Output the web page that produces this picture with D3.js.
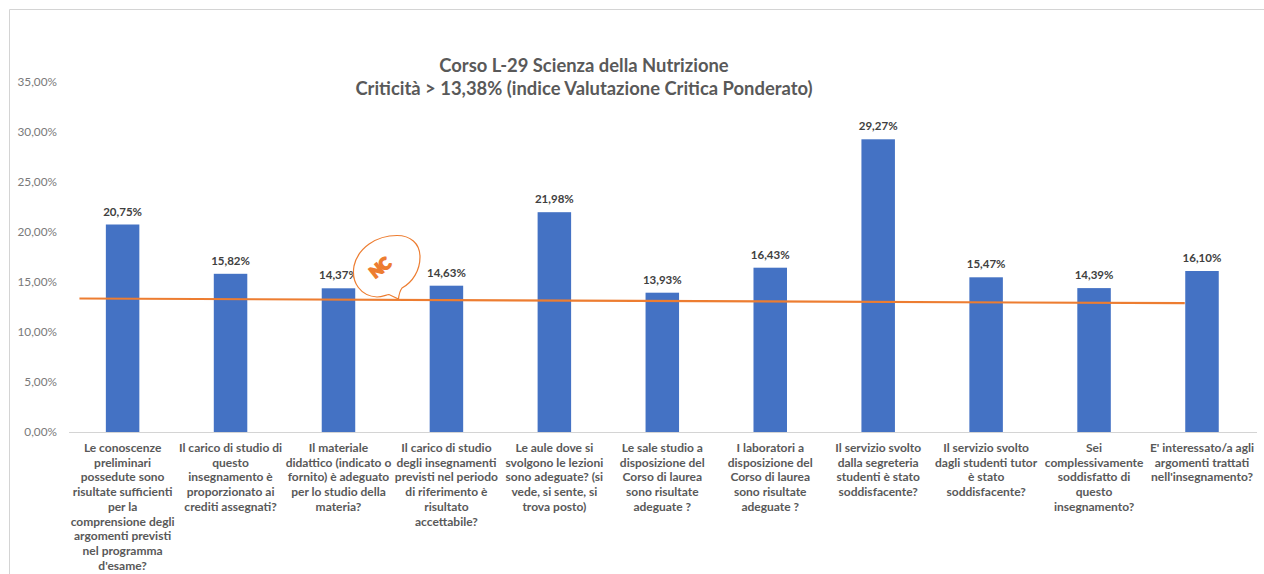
<!DOCTYPE html>
<html><head><meta charset="utf-8">
<script src="https://cdn.jsdelivr.net/npm/d3@7/dist/d3.min.js"></script>
<style>
html,body{margin:0;padding:0;background:#fff;overflow:hidden}
svg{display:block}
text{font-family:Lato,Carlito,"Open Sans",sans-serif}
</style></head><body>
<svg id="c" width="1264" height="574"></svg>
<script>
const categories = [
 ["Le conoscenze","preliminari","possedute sono","risultate sufficienti","per la","comprensione degli","argomenti previsti","nel programma","d'esame?"],
 ["Il carico di studio di","questo","insegnamento è","proporzionato ai","crediti assegnati?"],
 ["Il materiale","didattico (indicato o","fornito) è adeguato","per lo studio della","materia?"],
 ["Il carico di studio","degli insegnamenti","previsti nel periodo","di riferimento è","risultato","accettabile?"],
 ["Le aule dove si","svolgono le lezioni","sono adeguate? (si","vede, si sente, si","trova posto)"],
 ["Le sale studio a","disposizione del","Corso di laurea","sono risultate","adeguate ?"],
 ["I laboratori a","disposizione del","Corso di laurea","sono risultate","adeguate ?"],
 ["Il servizio svolto","dalla segreteria","studenti è stato","soddisfacente?"],
 ["Il servizio svolto","dagli studenti tutor","è stato","soddisfacente?"],
 ["Sei","complessivamente","soddisfatto di","questo","insegnamento?"],
 ["E' interessato/a agli","argomenti trattati","nell'insegnamento?"]
];
const values = [20.75,15.82,14.37,14.63,21.98,13.93,16.43,29.27,15.47,14.39,16.10];
const yTicks = [0,5,10,15,20,25,30,35];
const trendPositions = [-0.4,9.84];
const trendValues = [13.35,12.88];
const titleLines = ["Corso L-29 Scienza della Nutrizione","Criticità > 13,38% (indice Valutazione Critica Ponderato)"];

const fmt = v => v.toFixed(2).replace(".",",")+"%";
const svg = d3.select("#c");
const gray = "#595959";

// frame of the screenshot
svg.append("path").attr("d","M9.5 574V9.5H1264").attr("fill","none").attr("stroke","#d4d4d4").attr("stroke-width",1);

const y = d3.scaleLinear().domain([0,35]).range([432,82]);
const idx = d3.scaleLinear().domain([0,10]).range([122.6,1202]);
const barW = 33.5;
const plotL = 69, plotR = 1257;

// baseline
svg.append("line").attr("x1",plotL).attr("x2",plotR)
 .attr("y1",y(0)+.5).attr("y2",y(0)+.5).attr("stroke","#d4d4d4").attr("stroke-width",1);

const axis = d3.axisLeft(y).tickValues(yTicks).tickSize(0).tickPadding(0).tickFormat(fmt);
const ag = svg.append("g").attr("transform","translate(57,0)").call(axis);
ag.select(".domain").remove();
ag.selectAll("text").attr("font-size",11.8).attr("fill","#7a7a7a").style("font-family","Lato,Carlito,sans-serif");

// bars
svg.append("g").selectAll("rect").data(values).join("rect")
 .attr("x",(d,i)=>idx(i)-barW/2).attr("width",barW)
 .attr("y",d=>y(d)).attr("height",d=>y(0)-y(d)).attr("fill","#4472c4");

// value labels
svg.append("g").selectAll("text").data(values).join("text")
 .attr("x",(d,i)=>idx(i)).attr("y",d=>y(d)-9)
 .attr("text-anchor","middle").attr("font-size",11.5).attr("font-weight",700).attr("fill","#404040")
 .text(fmt);

// trend line
const line = d3.line().x(d=>idx(d[0])).y(d=>y(d[1]));
svg.append("path").datum(d3.zip(trendPositions,trendValues)).attr("d",line)
 .attr("fill","none").attr("stroke","#ed7d31").attr("stroke-width",2.2);

// category labels
svg.append("g").selectAll("text").data(categories).join("text")
 .attr("text-anchor","middle").attr("font-size",12).attr("font-weight",700).attr("fill",gray)
 .each(function(lines,i){
   d3.select(this).selectAll("tspan").data(lines).join("tspan")
     .attr("x",idx(i)).attr("y",(d,j)=>452+j*14.7).text(d=>d);
 });

// title
svg.append("g").selectAll("text").data(titleLines).join("text")
 .attr("x",584).attr("y",(d,i)=>72+i*23).attr("text-anchor","middle")
 .attr("font-size",18.4).attr("font-weight",700).attr("fill",gray).text(d=>d);

// callout with initials
const note = svg.append("g");
note.append("path")
 .attr("d","M398.5 299C399 294 400.5 290 402 288C413 282 420 270 420 257C420 243 410 235.5 397 235.5C376 235.5 358 248 354 266C351 283 361 296 377 297C382 297 386 295 389 294.5Z")
 .attr("fill","#fff").attr("stroke","#ed7d31").attr("stroke-width",1.2);
note.append("text").attr("transform","translate(380,268) rotate(-38)").attr("text-anchor","middle").attr("y",5.5)
 .attr("font-size",16).attr("font-weight",900).attr("letter-spacing",-0.8)
 .attr("fill","#ed7d31").attr("stroke","#ed7d31").attr("stroke-width",1.6).text("NC");
</script>
</body></html>
